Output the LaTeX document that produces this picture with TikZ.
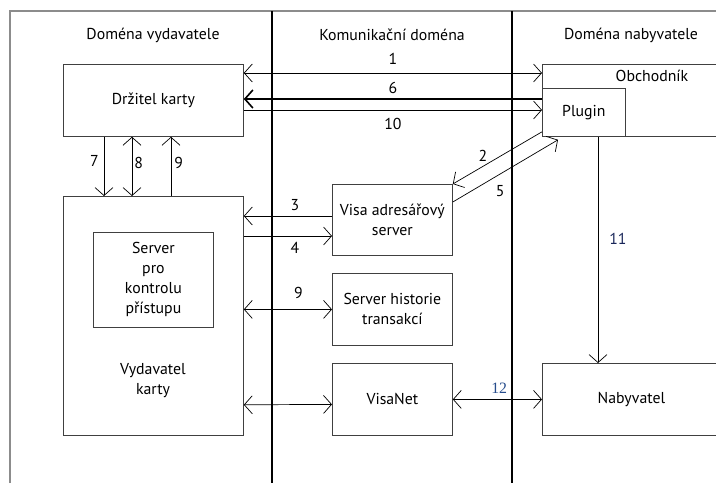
\documentclass[tikz,border=0pt]{standalone}
\usepackage{fontspec}
\setmainfont{PT Sans}
\newfontfamily\numfont{Liberation Serif}
\usetikzlibrary{arrows.meta, positioning}
\definecolor{framegray}{rgb}{0.55,0.55,0.55}
\definecolor{boxgray}{rgb}{0.25,0.25,0.25}
\definecolor{darkblue}{rgb}{0.1,0.15,0.35}
\definecolor{midblue}{rgb}{0.15,0.3,0.55}

\begin{document}
\begin{tikzpicture}[
        x=1pt, y=-1pt,
        font=\fontsize{15.8}{20}\selectfont,
        >={Straight Barb[length=8pt,width=18pt]},
        box/.style={rectangle, draw=boxgray, line width=0.8pt, anchor=north west, align=center, inner sep=0pt},
        lbl/.style={align=center, inner sep=1pt},
        arrow/.style={->, line width=0.7pt},
        both/.style={<->, line width=0.7pt},
        divider/.style={line width=1.3pt}
        ]
        \useasboundingbox (0,0) rectangle (716,483);

        % Frame and domains
        \draw [framegray, line width=1.2pt] (10,483) -- (10,11) -- (716,11);
        \draw [divider] (272,11) -- (272,483);
        \draw [divider] (512,11) -- (512,483);
        \node (hdrissuer) [lbl] at (153,35) {Doména vydavatele};
        \node (hdrcomm) [lbl] at (392,35) {Komunikační doména};
        \node (hdracq) [lbl] at (631,35) {Doména nabyvatele};

        % Nodes
        \node (drzitel) [box, minimum width=180pt, minimum height=72pt] at (63,64) {Držitel karty};
        \node (obchodnik) [box, minimum width=178pt, minimum height=72pt] at (542,64) {};
        \node (obchodniktext) [lbl] at (652,76) {Obchodník};
        \node (plugin) [box, minimum width=83pt, minimum height=48pt] at (542,88) {Plugin};
        \node (vydavatel) [box, minimum width=180pt, minimum height=239pt] at (63,196) {};
        \node (vydavateltext) [lbl] at (153,381) {Vydavatel\\karty};
        \node (acs) [box, minimum width=120pt, minimum height=95pt] at (93,232) {Server\\pro\\kontrolu\\přístupu};
        \node (dirsrv) [box, minimum width=120pt, minimum height=71pt] at (332,184) {Visa adresářový\\server};
        \node (histsrv) [box, minimum width=120pt, minimum height=72pt] at (332,273) {Server historie\\transakcí};
        \node (visanet) [box, minimum width=120pt, minimum height=72pt] at (332,363) {VisaNet};
        \node (nabyvatel) [box, minimum width=178pt, minimum height=72pt] at (542,363) {Nabyvatel};

        % Arrows with labels
        \draw [both] ([yshift=-9pt]drzitel.north east) -- node[lbl, above=7pt] {1} ([yshift=-9pt]obchodnik.north west);
        \draw [arrow, line width=1.6pt] ([yshift=-11pt]plugin.north west) -- node[lbl, above=3.5pt] {6} ([yshift=-35pt]drzitel.north east);
        \draw [arrow] ([yshift=-46pt]drzitel.north east) -- node[lbl, below=6.5pt] {10} ([yshift=-22pt]plugin.north west);
        \draw [arrow] ([xshift=41pt]drzitel.south west) -- node[lbl, pos=0.4, left=4pt] {7} ([xshift=41pt]vydavatel.north west);
        \draw [both] ([xshift=69pt]drzitel.south west) -- node[lbl, pos=0.45, right=1pt] {8} ([xshift=69pt]vydavatel.north west);
        \draw [arrow] ([xshift=108pt]vydavatel.north west) -- node[lbl, pos=0.55, right=2pt] {9} ([xshift=108pt]drzitel.south west);
        \draw [arrow] ([yshift=5pt]plugin.south west) -- node[lbl, pos=0.6, above left=0pt] {2} (dirsrv.north east);
        \draw [arrow] ([yshift=-18pt]dirsrv.north east) -- node[lbl, pos=0.45, below=10pt] {5} ([xshift=16pt,yshift=-3pt]plugin.south west);
        \draw [arrow] ([yshift=-32pt]dirsrv.north west) -- node[lbl, pos=0.42, above=3.5pt] {3} ([yshift=-20pt]vydavatel.north east);
        \draw [arrow] ([yshift=-40pt]vydavatel.north east) -- node[lbl, pos=0.58, below=5pt] {4} ([yshift=-52pt]dirsrv.north west);
        \draw [both] (vydavatel.east |- histsrv.west) -- node[lbl, pos=0.62, above=9.5pt] {9} (histsrv.west);
        \draw [both] ([yshift=31pt]vydavatel.south east) -- ([yshift=-5pt]visanet.west);
        \draw [both] (visanet.east) -- node[lbl, pos=0.52, above=4.5pt, text=midblue, font=\numfont\fontsize{15.8}{20}\selectfont] {12} (nabyvatel.west);
        \draw [arrow] ([xshift=56pt]obchodnik.south west) -- node[lbl, pos=0.45, right=10pt, text=darkblue] {11} ([xshift=56pt]nabyvatel.north west);

    \end{tikzpicture}
\end{document}
